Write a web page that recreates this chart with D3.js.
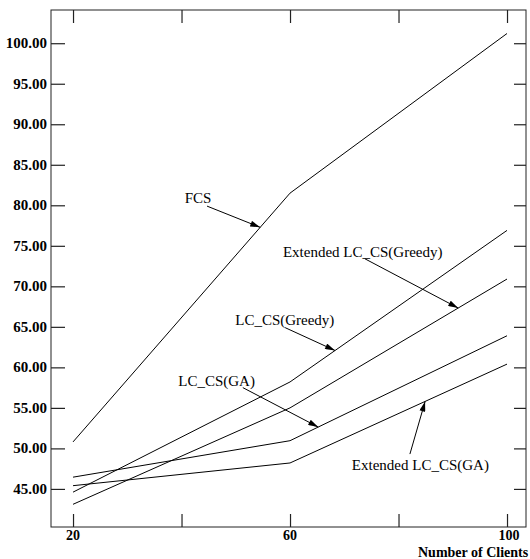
<!DOCTYPE html>
<html>
<head>
<meta charset="utf-8">
<script src="https://cdn.jsdelivr.net/npm/d3@7"></script>
<style>
  body { margin: 0; background: #fff; }
  text { font-family: "Liberation Serif", "Times New Roman", serif; fill: #000; }
</style>
</head>
<body>
<div id="chart"></div>
<script>
// chart values
const clients = [20, 60, 100];
const fcs = [50.8, 81.5, 101.2];
const lcGreedy = [44.6, 58.2, 76.9];
const extLcGreedy = [43.1, 55.0, 70.9];
const lcGA = [46.45, 50.95, 63.9];
const extLcGA = [45.4, 48.2, 60.4];
const xTicks = [20, 40, 60, 80, 100];
const xTickLabels = [20, 60, 100];
const yTicks = [45, 50, 55, 60, 65, 70, 75, 80, 85, 90, 95, 100];

const seriesList = [
  { name: "FCS", values: fcs },
  { name: "LC_CS(Greedy)", values: lcGreedy },
  { name: "Extended LC_CS(Greedy)", values: extLcGreedy },
  { name: "LC_CS(GA)", values: lcGA },
  { name: "Extended LC_CS(GA)", values: extLcGA }
];

// annotation: label spot, arrow start (data units), arrow tip x on the series
const notes = [
  { series: "FCS", tx: 40.6, ty: 80.3, ax: 44.7, ay: 79.9, tipX: 54.5 },
  { series: "Extended LC_CS(Greedy)", tx: 58.7, ty: 73.6, ax: 73.8, ay: 73.4, tipX: 91.0 },
  { series: "LC_CS(Greedy)", tx: 49.9, ty: 65.2, ax: 59.1, ay: 64.9, tipX: 68.3 },
  { series: "LC_CS(GA)", tx: 39.4, ty: 57.7, ax: 51.3, ay: 57.5, tipX: 65.2 },
  { series: "Extended LC_CS(GA)", tx: 71.4, ty: 47.35, ax: 82.1, ay: 49.3, tipX: 84.9 }
];

const width = 530;
const height = 559;
const plotLeft = 51, plotRight = 526, plotTop = 10, plotBottom = 527;

let svg = d3.select("#chart")
  .append("svg")
  .attr("width", width)
  .attr("height", height);

let x = d3.scaleLinear().domain([15.94, 103.5]).range([plotLeft, plotRight]);
let y = d3.scaleLinear().domain([40.3, 104.1]).range([plotBottom, plotTop]);

//frame
svg.append("rect")
  .attr("x", plotLeft).attr("y", plotTop)
  .attr("width", plotRight - plotLeft).attr("height", plotBottom - plotTop)
  .attr("fill", "none").attr("stroke", "#222").attr("stroke-width", 1);

//ticks on all four sides, pointing inwards
svg.append("g").attr("transform", "translate(0," + plotBottom + ")")
  .call(d3.axisTop(x).tickValues(xTicks).tickSize(13).tickFormat(""))
  .call(g => g.select(".domain").remove());
svg.append("g").attr("transform", "translate(0," + plotTop + ")")
  .call(d3.axisBottom(x).tickValues(xTicks).tickSize(13).tickFormat(""))
  .call(g => g.select(".domain").remove());
svg.append("g").attr("transform", "translate(" + plotLeft + ",0)")
  .call(d3.axisRight(y).tickValues(yTicks).tickSize(14).tickFormat(""))
  .call(g => g.select(".domain").remove());
svg.append("g").attr("transform", "translate(" + plotRight + ",0)")
  .call(d3.axisLeft(y).tickValues(yTicks).tickSize(12).tickFormat(""))
  .call(g => g.select(".domain").remove());
svg.selectAll(".tick line").attr("stroke", "#222").attr("stroke-width", 1.2);

//tick labels
svg.selectAll(".ylab")
  .data(yTicks)
  .enter().append("text")
  .attr("class", "ylab")
  .attr("x", plotLeft - 4)
  .attr("y", d => y(d) + 5)
  .attr("text-anchor", "end")
  .attr("font-size", 15)
  .attr("font-weight", "bold")
  .text(d => d.toFixed(2));

svg.selectAll(".xlab")
  .data(xTickLabels)
  .enter().append("text")
  .attr("class", "xlab")
  .attr("x", d => x(d) + (d === 100 ? 2 : 0))
  .attr("y", plotBottom + 13)
  .attr("text-anchor", "middle")
  .attr("font-size", 14)
  .attr("font-weight", "bold")
  .text(d => d);

svg.append("text")
  .attr("x", 418)
  .attr("y", 557)
  .attr("font-size", 14)
  .attr("font-weight", "bold")
  .text("Number of Clients");

//lines
let line = d3.line()
  .x((d, i) => x(clients[i]))
  .y(d => y(d));

svg.selectAll(".series")
  .data(seriesList)
  .enter().append("path")
  .attr("class", "series")
  .attr("d", d => line(d.values))
  .attr("fill", "none")
  .attr("stroke", "#000")
  .attr("stroke-width", 1);

//arrow head
svg.append("defs").append("marker")
  .attr("id", "head")
  .attr("viewBox", "0 0 10 6")
  .attr("refX", 10).attr("refY", 3)
  .attr("markerWidth", 11).attr("markerHeight", 6)
  .attr("markerUnits", "userSpaceOnUse")
  .attr("orient", "auto")
  .append("path")
  .attr("d", "M0,0L10,3L0,6Z")
  .attr("fill", "#000");

//value on a series at a given x
const valueAt = (vals, xv) => {
  let i = xv <= clients[1] ? 0 : 1;
  let t = (xv - clients[i]) / (clients[i + 1] - clients[i]);
  return vals[i] + t * (vals[i + 1] - vals[i]);
};

notes.forEach(n => {
  let s = seriesList.find(d => d.name === n.series);
  svg.append("line")
    .attr("x1", x(n.ax)).attr("y1", y(n.ay))
    .attr("x2", x(n.tipX)).attr("y2", y(valueAt(s.values, n.tipX)))
    .attr("stroke", "#000").attr("stroke-width", 1)
    .attr("marker-end", "url(#head)");
  svg.append("text")
    .attr("x", x(n.tx)).attr("y", y(n.ty))
    .attr("font-size", 15)
    .text(n.series);
});
</script>
</body>
</html>
